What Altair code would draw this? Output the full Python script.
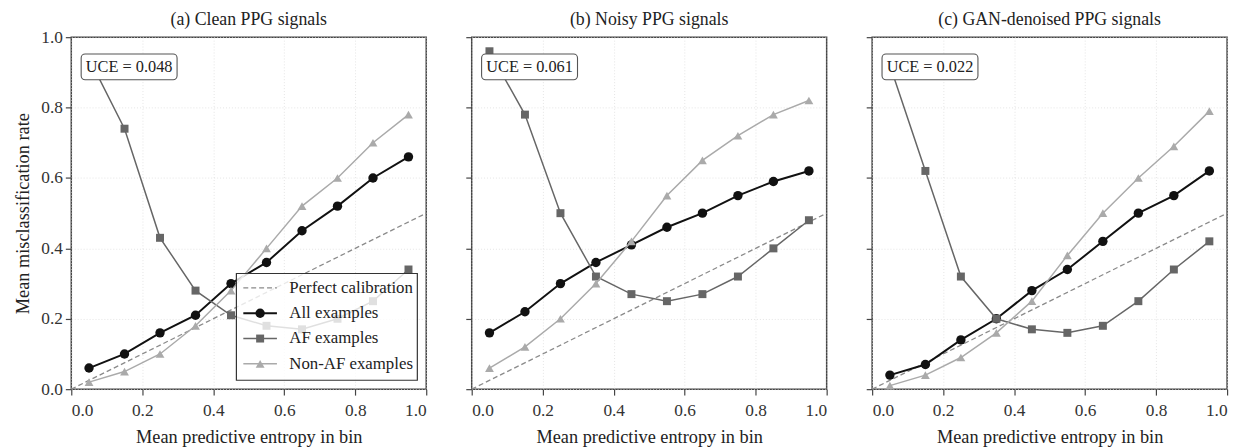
import altair as alt
import pandas as pd

# ---------------- data ----------------
bins = [0.05, 0.15, 0.25, 0.35, 0.45, 0.55, 0.65, 0.75, 0.85, 0.95]
series_names = ["All examples", "AF examples", "Non-AF examples"]

panel_titles = ["(a) Clean PPG signals", "(b) Noisy PPG signals", "(c) GAN-denoised PPG signals"]
uce_labels = ["UCE = 0.048", "UCE = 0.061", "UCE = 0.022"]

all_a = [0.06, 0.10, 0.16, 0.21, 0.30, 0.36, 0.45, 0.52, 0.60, 0.66]
af_a = [0.94, 0.74, 0.43, 0.28, 0.21, 0.18, 0.17, 0.20, 0.25, 0.34]
non_a = [0.02, 0.05, 0.10, 0.18, 0.28, 0.40, 0.52, 0.60, 0.70, 0.78]

all_b = [0.16, 0.22, 0.30, 0.36, 0.41, 0.46, 0.50, 0.55, 0.59, 0.62]
af_b = [0.96, 0.78, 0.50, 0.32, 0.27, 0.25, 0.27, 0.32, 0.40, 0.48]
non_b = [0.06, 0.12, 0.20, 0.30, 0.42, 0.55, 0.65, 0.72, 0.78, 0.82]

all_c = [0.04, 0.07, 0.14, 0.20, 0.28, 0.34, 0.42, 0.50, 0.55, 0.62]
af_c = [0.92, 0.62, 0.32, 0.20, 0.17, 0.16, 0.18, 0.25, 0.34, 0.42]
non_c = [0.01, 0.04, 0.09, 0.16, 0.25, 0.38, 0.50, 0.60, 0.69, 0.79]

calib_x = [0.0, 1.0]
calib_y = [0.0, 0.5]
calib_name = "Perfect calibration"

ticks = [0.0, 0.2, 0.4, 0.6, 0.8, 1.0]

panels = [
    (all_a, af_a, non_a),
    (all_b, af_b, non_b),
    (all_c, af_c, non_c),
]

# ---------------- style ----------------
FONT = "Liberation Serif"
W, H = 359, 356
colors = ["#111111", "#666666", "#aaaaaa"]
shapes = ["circle", "square", "triangle-up"]
sizes = [90, 65, 80]
widths = [2.0, 1.5, 1.5]
calib_color = "#8a8a8a"

xscale = alt.Scale(domain=[0, 1], nice=False)
yscale = alt.Scale(domain=[0, 1], nice=False)


def make_panel(i):
    vals = panels[i]
    rows = []
    for name, ys in zip(series_names, vals):
        for x, y in zip(bins, ys):
            rows.append({"series": name, "x": x, "y": y})
    df = pd.DataFrame(rows)

    xaxis = alt.Axis(values=ticks, format=".1f", title="Mean predictive entropy in bin")
    if i == 0:
        yaxis = alt.Axis(values=ticks, format=".1f", title="Mean misclassification rate")
    else:
        yaxis = alt.Axis(values=ticks, labels=False, title=None)

    calib_df = pd.DataFrame({"x": calib_x, "y": calib_y})
    calib = alt.Chart(calib_df).mark_line(
        color=calib_color, strokeDash=[5, 3], strokeWidth=1.3
    ).encode(
        x=alt.X("x:Q", scale=xscale, axis=xaxis),
        y=alt.Y("y:Q", scale=yscale, axis=yaxis),
    )

    layers = [calib]
    for k, name in enumerate(series_names):
        sdf = df[df.series == name]
        line = alt.Chart(sdf).mark_line(color=colors[k], strokeWidth=widths[k]).encode(
            x=alt.X("x:Q", scale=xscale),
            y=alt.Y("y:Q", scale=yscale),
        )
        pts = alt.Chart(sdf).mark_point(
            filled=True, shape=shapes[k], size=sizes[k], color=colors[k], opacity=1
        ).encode(
            x=alt.X("x:Q", scale=xscale),
            y=alt.Y("y:Q", scale=yscale),
        )
        layers += [line, pts]

    # UCE annotation box
    lab_df = pd.DataFrame({"label": [uce_labels[i]]})
    box = alt.Chart(lab_df).mark_rect(
        fill="white", stroke="#555555", strokeWidth=1.1, cornerRadius=4
    ).encode(x=alt.value(10), x2=alt.value(107), y=alt.value(17), y2=alt.value(43))
    txt = alt.Chart(lab_df).mark_text(
        font=FONT, fontSize=16.5, color="#222222", align="center", baseline="middle"
    ).encode(x=alt.value(58.5), y=alt.value(30.5), text="label:N")
    layers += [box, txt]

    # panel title as a text mark above the plot
    ttl_df = pd.DataFrame({"title": [panel_titles[i]]})
    ttl = alt.Chart(ttl_df).mark_text(
        font=FONT, fontSize=18, color="#222222", align="center", baseline="middle"
    ).encode(x=alt.value(W / 2), y=alt.value(-17), text="title:N")
    layers.append(ttl)

    if i == 0:
        # legend
        leg_names = [calib_name] + series_names
        lx0, lx1, ly0, ly1 = 167, 350, 239, 347
        frame = alt.Chart(pd.DataFrame({"n": [0]})).mark_rect(
            fill="white", fillOpacity=0.8, stroke="#333333", strokeWidth=1.2
        ).encode(x=alt.value(lx0), x2=alt.value(lx1), y=alt.value(ly0), y2=alt.value(ly1))
        layers.append(frame)
        for r, name in enumerate(leg_names):
            yy = 253.6 + r * 25.6
            ndf = pd.DataFrame({"name": [name]})
            if r == 0:
                rule = alt.Chart(ndf).mark_rule(
                    color=calib_color, strokeDash=[5, 3], strokeWidth=1.3
                ).encode(x=alt.value(174), x2=alt.value(208), y=alt.value(yy))
                layers.append(rule)
            else:
                k = r - 1
                rule = alt.Chart(ndf).mark_rule(
                    color=colors[k], strokeWidth=widths[k]
                ).encode(x=alt.value(174), x2=alt.value(208), y=alt.value(yy))
                pt = alt.Chart(ndf).mark_point(
                    filled=True, shape=shapes[k], size=sizes[k], color=colors[k], opacity=1
                ).encode(x=alt.value(191), y=alt.value(yy))
                layers += [rule, pt]
            t = alt.Chart(ndf).mark_text(
                font=FONT, fontSize=17, color="#222222", align="left", baseline="middle"
            ).encode(x=alt.value(220.5), y=alt.value(yy), text="name:N")
            layers.append(t)

    return alt.layer(*layers).properties(width=W, height=H)


chart = alt.hconcat(*[make_panel(i) for i in range(3)], spacing=34).properties(
    padding={"left": 5, "top": 0, "right": 5, "bottom": 0}
).configure_view(
    stroke="#444444", strokeWidth=1.5
).configure_axis(
    labelFont=FONT, labelFontSize=17.5, labelColor="#333333",
    titleFont=FONT, titleFontSize=18.5, titleFontWeight="normal", titleColor="#222222",
    domain=False, tickColor="#444444", tickSize=6, tickWidth=1.2,
    grid=True, gridColor="#dedede", gridDash=[1, 2], gridWidth=0.8,
).configure_axisX(titlePadding=8, labelPadding=7).configure_axisY(titlePadding=8, labelPadding=3)

chart.save("out.html", embed_options={"renderer": "svg", "actions": False})
